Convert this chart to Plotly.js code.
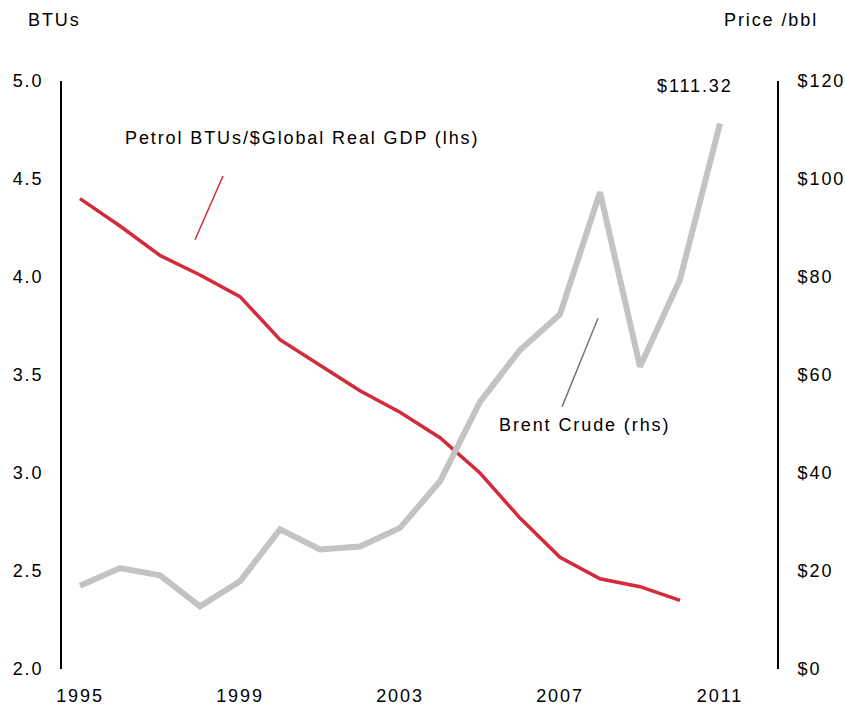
<!DOCTYPE html>
<html>
<head>
<meta charset="utf-8">
<script src="https://cdn.plot.ly/plotly-3.0.1.min.js"></script>
<style>html,body{margin:0;padding:0;background:#fff;}#chart{width:845px;height:708px;} text{letter-spacing:1.9px;}</style>
</head>
<body>
<div id="chart"></div>
<script>
var years = [1995,1996,1997,1998,1999,2000,2001,2002,2003,2004,2005,2006,2007,2008,2009,2010,2011];
var btuYears = [1995,1996,1997,1998,1999,2000,2001,2002,2003,2004,2005,2006,2007,2008,2009,2010];
var btuPerGdp = [4.40,4.26,4.11,4.01,3.90,3.68,3.55,3.42,3.31,3.18,3.00,2.77,2.57,2.46,2.42,2.35];
var brentPrice = [17.0,20.6,19.1,12.8,17.9,28.5,24.4,25.0,28.8,38.3,54.5,65.1,72.4,97.3,61.7,79.5,111.32];
var xTicks = [1995,1999,2003,2007,2011];
var leftTicks = [2.0,2.5,3.0,3.5,4.0,4.5,5.0];
var rightTicks = [0,20,40,60,80,100,120];

var font = {family: 'Liberation Sans, Arial, sans-serif', size: 18, color: '#000'};

var traces = [
  {x: btuYears, y: btuPerGdp, type: 'scatter', mode: 'lines', name: 'Petrol BTUs/$Global Real GDP (lhs)',
   line: {color: '#d22b3b', width: 3.5}, yaxis: 'y'},
  {x: years, y: brentPrice, type: 'scatter', mode: 'lines', name: 'Brent Crude (rhs)',
   line: {color: '#c3c3c3', width: 6}, yaxis: 'y2'}
];

var layout = {
  width: 845, height: 708,
  margin: {l: 62, r: 68, t: 81, b: 39},
  paper_bgcolor: '#fff', plot_bgcolor: '#fff',
  showlegend: false,
  font: font,
  xaxis: {range: [1994.55, 2012.425], tickvals: xTicks, ticktext: xTicks.map(String),
          showgrid: false, zeroline: false, showline: false, ticks: '', ticklabelstandoff: 14},
  yaxis: {range: [2, 5], tickvals: leftTicks, ticktext: leftTicks.map(function(v){return v.toFixed(1);}),
          showgrid: false, zeroline: false, showline: true, linecolor: '#000', linewidth: 2,
          ticks: '', ticklabelstandoff: 13},
  yaxis2: {range: [0, 120], overlaying: 'y', side: 'right', tickvals: rightTicks,
           ticktext: rightTicks.map(function(v){return '$' + v;}),
           showgrid: false, zeroline: false, showline: true, linecolor: '#000', linewidth: 2,
           ticks: '', ticklabelstandoff: 15},
  shapes: [
    {type: 'line', xref: 'x', yref: 'y', x0: 1997.875, y0: 4.19, x1: 1998.575, y1: 4.515,
     line: {color: '#d22b3b', width: 1.5}},
    {type: 'line', xref: 'x', yref: 'y2', x0: 2007.05, y0: 53.5, x1: 2007.95, y1: 71.6,
     line: {color: '#777', width: 1.5}}
  ],
  annotations: [
    {text: 'Petrol BTUs/$Global Real GDP (lhs)', xref: 'x', yref: 'y', x: 1996.08, y: 4.709,
     xanchor: 'left', yanchor: 'middle', showarrow: false, font: font},
    {text: 'Brent Crude (rhs)', xref: 'x', yref: 'y', x: 2005.43, y: 3.245, xanchor: 'left', yanchor: 'middle', showarrow: false, font: font},
    {text: '$111.32', xref: 'x', yref: 'y', x: 2009.38, y: 4.974, xanchor: 'left', yanchor: 'middle', showarrow: false, font: font},
    {text: 'BTUs', xref: 'paper', yref: 'paper', x: -0.05, y: 1.104, xanchor: 'left', yanchor: 'middle', showarrow: false, font: font},
    {text: 'Price /bbl', xref: 'paper', yref: 'paper', x: 1.06, y: 1.104, xanchor: 'right', yanchor: 'middle', showarrow: false, font: font}
  ]
};

Plotly.newPlot('chart', traces, layout, {displayModeBar: false, staticPlot: true});
</script>
</body>
</html>
